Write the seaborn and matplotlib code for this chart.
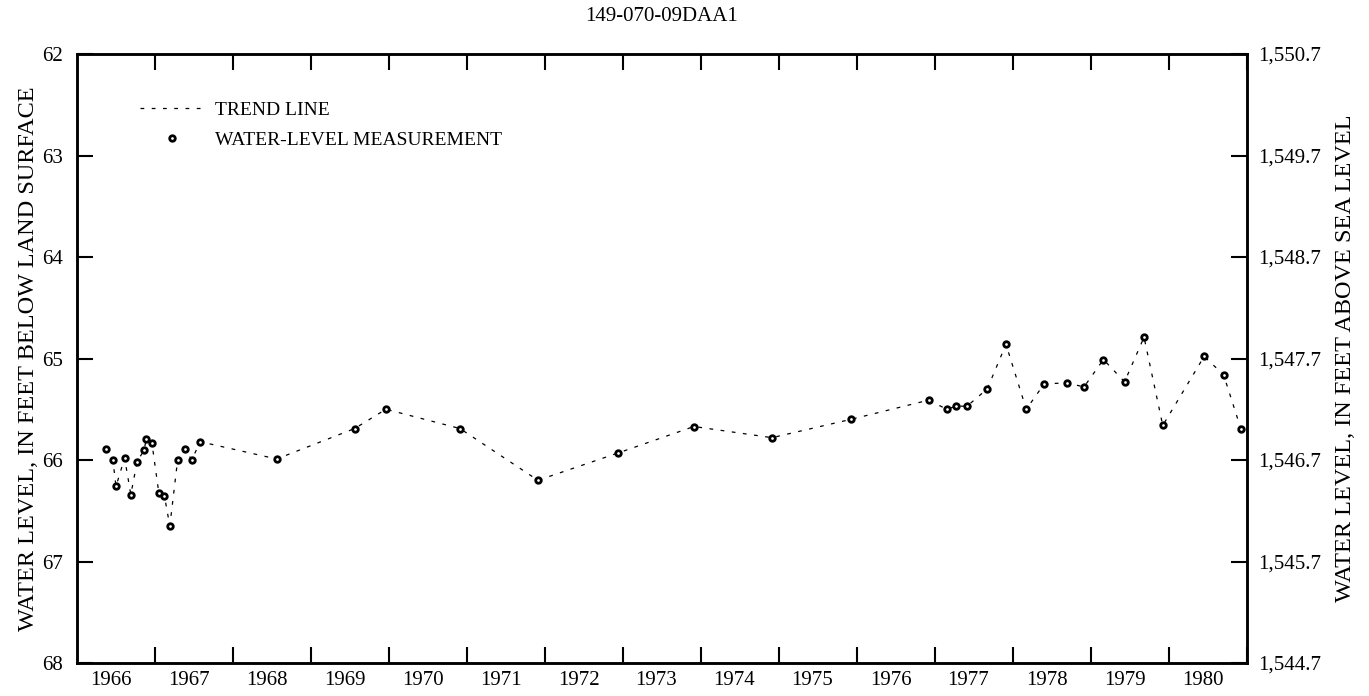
import numpy as np
import pandas as pd
import matplotlib
matplotlib.use("Agg")
import matplotlib.pyplot as plt
import seaborn as sns
from matplotlib.lines import Line2D
from matplotlib.ticker import FixedLocator, FuncFormatter, NullFormatter

# %% data read off the hydrograph (decimal year, feet below land surface)
dates = [1966.37, 1966.46, 1966.50, 1966.61, 1966.69, 1966.77, 1966.86, 1966.89, 1966.96,
         1967.05, 1967.12, 1967.19, 1967.29, 1967.39, 1967.47, 1967.58,
         1968.56, 1969.56, 1969.96, 1970.91, 1971.91, 1972.94, 1973.91, 1974.91,
         1975.92, 1976.92, 1977.15, 1977.27, 1977.41, 1977.67, 1977.91,
         1978.17, 1978.40, 1978.69, 1978.91, 1979.16, 1979.43, 1979.68, 1979.92,
         1980.45, 1980.70, 1980.92]
levels = [65.89, 66.00, 66.26, 65.98, 66.34, 66.02, 65.90, 65.79, 65.83,
          66.33, 66.35, 66.65, 66.00, 65.89, 66.00, 65.82,
          65.99, 65.69, 65.50, 65.69, 66.20, 65.93, 65.67, 65.78,
          65.60, 65.41, 65.50, 65.47, 65.47, 65.30, 64.86,
          65.50, 65.25, 65.24, 65.28, 65.01, 65.23, 64.79, 65.66,
          64.98, 65.16, 65.69]
years = list(range(1966, 1981))
land_surface = 1612.7  # altitude of land surface, feet
title = "149-070-09DAA1"

df = pd.DataFrame({"date": dates, "level": levels})

# %% style
sns.set_theme(style="ticks", rc={"text.color": "black", "axes.labelcolor": "black",
                                 "axes.edgecolor": "black", "xtick.color": "black",
                                 "ytick.color": "black"})
plt.rcParams["font.family"] = ["Liberation Serif", "DejaVu Serif"]
fs = 15

fig = plt.figure(figsize=(13.69, 6.96), dpi=100)
ax = fig.add_axes([77 / 1369, 1 - 663 / 696, 1170 / 1369, 609 / 696])

sns.lineplot(data=df, x="date", y="level", ax=ax, sort=False, color="black",
             lw=0.9, linestyle=(0, (3, 6)), estimator=None)
sns.scatterplot(data=df, x="date", y="level", ax=ax, s=16, marker="o",
                facecolor="white", edgecolor="black", linewidth=2.0, zorder=3)

ax.set_xlim(1966, 1981)
ax.set_ylim(68, 62)
ax.set_xlabel("")
ax.set_ylabel("WATER LEVEL, IN FEET BELOW LAND SURFACE", fontsize=17.5, labelpad=2)

# year ticks at boundaries, labels in between
ax.xaxis.set_major_locator(FixedLocator(years[1:] + [1981]))
ax.xaxis.set_major_formatter(NullFormatter())
ax.xaxis.set_minor_locator(FixedLocator([y + 0.43 for y in years]))
ax.xaxis.set_minor_formatter(FuncFormatter(lambda v, p: str(int(v))))
ax.tick_params(axis="x", which="major", direction="in", length=11.5, width=1.5,
               top=True, bottom=True)
ax.tick_params(axis="x", which="minor", length=0, labelsize=fs, pad=6)

ax.set_yticks(range(62, 69))
ax.tick_params(axis="y", direction="in", length=11.5, width=1.5, labelsize=fs, pad=10)

for s in ax.spines.values():
    s.set_linewidth(1.8)
    s.set_visible(True)

ax2 = ax.twinx()
ax2.set_ylim(ax.get_ylim())
ax2.set_yticks(range(62, 69))
ax2.yaxis.set_major_formatter(FuncFormatter(lambda v, p: "{:,.1f}".format(land_surface - v)))
ax2.tick_params(axis="y", direction="in", length=11.5, width=1.5, labelsize=fs, pad=8)
ax2.set_ylabel("WATER LEVEL, IN FEET ABOVE SEA LEVEL", fontsize=17.5, labelpad=10)
for s in ax2.spines.values():
    s.set_linewidth(1.8)

ax.set_title(title, fontsize=fs, pad=24)

handles = [Line2D([], [], color="black", lw=0.9, linestyle=(0, (3, 6))),
           Line2D([], [], color="black", lw=0, marker="o", markersize=4,
                  markerfacecolor="white", markeredgewidth=2.0)]
ax.legend(handles, ["TREND LINE", "WATER-LEVEL MEASUREMENT"], loc="upper left",
          bbox_to_anchor=(0.054, 0.923), frameon=False, fontsize=14,
          handlelength=3.25, handletextpad=0.62, labelspacing=0.65,
          borderpad=0, borderaxespad=0)

fig.savefig("out.png", dpi=100)
